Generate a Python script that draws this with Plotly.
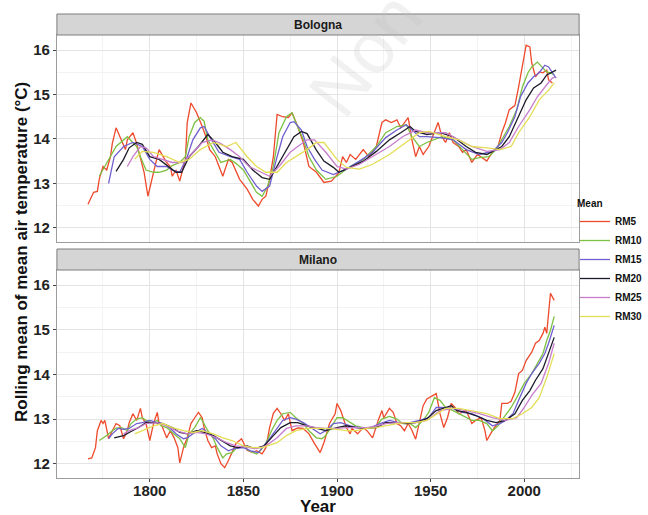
import plotly.graph_objects as go

# ---------------- data: rolling means of mean air temperature (°C) ----------------
series_names = ["RM5", "RM10", "RM15", "RM20", "RM25", "RM30"]
series_colors = ["#ee4a2c", "#7cc142", "#6f5fd0", "#1c1c2a", "#c77ccc", "#e3de55"]

bologna_rm5_years = [1767, 1770, 1772, 1773, 1775, 1777, 1779, 1780, 1782, 1785, 1787, 1788, 1791, 1793, 1795, 1797, 1799, 1801, 1804, 1805, 1807, 1809, 1811, 1812, 1814, 1816, 1819, 1820, 1822, 1825, 1828, 1830, 1832, 1835, 1837, 1839, 1842, 1844, 1848, 1852, 1855, 1858, 1860, 1862, 1864, 1866, 1868, 1871, 1874, 1876, 1879, 1882, 1885, 1889, 1893, 1897, 1901, 1903, 1905, 1907, 1910, 1914, 1917, 1921, 1924, 1926, 1929, 1932, 1934, 1938, 1940, 1942, 1944, 1946, 1949, 1952, 1954, 1956, 1958, 1960, 1962, 1965, 1967, 1969, 1972, 1975, 1978, 1980, 1983, 1986, 1988, 1990, 1992, 1994, 1995, 1997, 1999, 2001, 2003, 2004, 2006, 2008, 2010, 2012, 2013, 2015]
bologna_rm5 = [12.53, 12.8, 12.82, 13.09, 13.38, 13.3, 13.6, 13.9, 14.25, 13.98, 13.76, 13.98, 14.14, 13.9, 13.6, 13.24, 12.71, 13.09, 13.6, 13.76, 13.6, 13.47, 13.38, 13.16, 13.3, 13.05, 13.54, 14.37, 14.81, 14.59, 14.28, 14.05, 13.76, 13.6, 13.38, 13.16, 13.54, 13.47, 13.09, 12.87, 12.64, 12.49, 12.64, 12.71, 13.09, 13.6, 14.55, 14.5, 14.48, 14.59, 14.28, 13.92, 13.38, 13.25, 13.02, 13.05, 13.24, 13.6, 13.47, 13.65, 13.54, 13.76, 13.6, 13.83, 14.37, 14.43, 14.37, 14.43, 14.25, 14.48, 13.98, 13.6, 13.83, 13.65, 13.83, 14.14, 14.37, 14.05, 13.92, 14.14, 13.92, 13.83, 13.7, 13.76, 13.47, 13.65, 13.55, 13.5, 13.7, 13.83, 14.14, 14.37, 14.66, 14.72, 14.75, 15.17, 15.62, 16.11, 16.07, 15.71, 15.4, 15.51, 15.49, 15.55, 15.33, 15.26]

bologna_rm10_years = [1773, 1779, 1782, 1788, 1793, 1795, 1798, 1802, 1805, 1809, 1812, 1816, 1819, 1821, 1824, 1827, 1829, 1831, 1835, 1838, 1843, 1846, 1850, 1853, 1857, 1860, 1863, 1866, 1869, 1873, 1876, 1878, 1882, 1885, 1889, 1894, 1900, 1907, 1914, 1921, 1926, 1932, 1937, 1940, 1944, 1948, 1952, 1956, 1962, 1967, 1972, 1976, 1981, 1985, 1988, 1992, 1996, 1999, 2002, 2004, 2007, 2009, 2012, 2014, 2016]
bologna_rm10 = [13.16, 13.6, 13.83, 14.05, 13.83, 13.6, 13.3, 13.25, 13.25, 13.3, 13.4, 13.47, 13.6, 14.05, 14.37, 14.48, 14.4, 13.98, 13.7, 13.47, 13.54, 13.45, 13.3, 13.09, 12.8, 12.71, 12.94, 13.38, 14.14, 14.5, 14.59, 14.37, 13.98, 13.6, 13.3, 13.09, 13.16, 13.38, 13.54, 13.83, 14.14, 14.28, 14.32, 14.05, 13.83, 13.92, 13.98, 14.05, 13.98, 13.76, 13.54, 13.58, 13.6, 13.76, 13.98, 14.28, 14.66, 15.17, 15.49, 15.62, 15.73, 15.65, 15.51, 15.49, 15.44]

bologna_rm15_years = [1778, 1781, 1786, 1791, 1796, 1800, 1804, 1809, 1812, 1816, 1820, 1823, 1827, 1829, 1833, 1837, 1843, 1848, 1852, 1857, 1860, 1864, 1868, 1871, 1875, 1877, 1881, 1884, 1888, 1892, 1898, 1905, 1912, 1919, 1926, 1932, 1937, 1944, 1948, 1955, 1962, 1969, 1976, 1983, 1988, 1991, 1995, 1998, 2002, 2005, 2008, 2011, 2013, 2015, 2017]
bologna_rm15 = [13.0, 13.6, 13.83, 13.92, 13.83, 13.54, 13.38, 13.38, 13.3, 13.25, 13.6, 13.98, 14.25, 14.28, 13.98, 13.7, 13.6, 13.54, 13.25, 12.94, 12.82, 12.94, 13.6, 14.05, 14.37, 14.39, 14.2, 13.83, 13.54, 13.3, 13.2, 13.32, 13.5, 13.7, 14.03, 14.2, 14.32, 14.05, 14.05, 14.03, 13.98, 13.76, 13.65, 13.72, 13.92, 14.14, 14.5, 14.95, 15.26, 15.4, 15.49, 15.66, 15.62, 15.49, 15.37]

bologna_rm20_years = [1782, 1786, 1789, 1793, 1796, 1800, 1805, 1810, 1814, 1817, 1821, 1826, 1829, 1831, 1835, 1839, 1844, 1850, 1855, 1860, 1864, 1868, 1873, 1877, 1881, 1884, 1889, 1893, 1898, 1901, 1907, 1914, 1921, 1928, 1934, 1939, 1942, 1948, 1955, 1962, 1969, 1974, 1980, 1983, 1988, 1992, 1996, 2001, 2005, 2009, 2012, 2015, 2017]
bologna_rm20 = [13.27, 13.54, 13.8, 13.92, 13.88, 13.6, 13.54, 13.38, 13.25, 13.25, 13.6, 13.83, 13.98, 14.1, 13.92, 13.7, 13.6, 13.54, 13.3, 13.13, 13.09, 13.38, 13.76, 14.05, 14.17, 14.12, 13.75, 13.5, 13.36, 13.25, 13.36, 13.5, 13.72, 13.98, 14.14, 14.28, 14.17, 14.1, 14.14, 14.05, 13.83, 13.7, 13.65, 13.72, 13.83, 14.05, 14.43, 14.88, 15.15, 15.26, 15.44, 15.51, 15.55]

bologna_rm25_years = [1788, 1791, 1795, 1798, 1802, 1807, 1812, 1818, 1823, 1828, 1833, 1837, 1843, 1848, 1853, 1859, 1864, 1869, 1875, 1879, 1884, 1888, 1894, 1900, 1905, 1912, 1919, 1928, 1935, 1942, 1948, 1958, 1965, 1972, 1980, 1987, 1992, 1997, 2003, 2007, 2012, 2015, 2017]
bologna_rm25 = [13.38, 13.6, 13.83, 13.8, 13.6, 13.54, 13.47, 13.47, 13.7, 13.92, 13.98, 13.92, 13.76, 13.6, 13.38, 13.25, 13.16, 13.38, 13.7, 13.83, 13.98, 13.98, 13.7, 13.38, 13.32, 13.43, 13.6, 13.83, 14.05, 14.2, 14.14, 14.14, 13.98, 13.83, 13.72, 13.76, 13.92, 14.28, 14.66, 14.95, 15.22, 15.37, 15.4]

bologna_rm30_years = [1792, 1796, 1802, 1809, 1816, 1821, 1827, 1834, 1841, 1846, 1852, 1857, 1862, 1868, 1873, 1878, 1884, 1889, 1893, 1900, 1905, 1912, 1919, 1928, 1937, 1944, 1949, 1958, 1965, 1972, 1980, 1987, 1993, 1997, 2003, 2008, 2013, 2016]
bologna_rm30 = [13.55, 13.72, 13.7, 13.6, 13.47, 13.54, 13.76, 13.92, 13.83, 13.92, 13.6, 13.38, 13.25, 13.25, 13.47, 13.6, 13.76, 13.92, 13.92, 13.54, 13.36, 13.32, 13.43, 13.65, 13.92, 14.14, 14.17, 14.05, 13.98, 13.83, 13.8, 13.76, 13.83, 14.14, 14.5, 14.88, 15.1, 15.26]

milano_rm5_years = [1767, 1769, 1771, 1772, 1774, 1775, 1776, 1778, 1780, 1782, 1784, 1786, 1788, 1789, 1791, 1793, 1795, 1796, 1798, 1800, 1802, 1804, 1805, 1806, 1809, 1811, 1813, 1815, 1816, 1818, 1820, 1822, 1824, 1826, 1828, 1829, 1831, 1833, 1835, 1836, 1838, 1840, 1842, 1844, 1846, 1849, 1852, 1855, 1857, 1860, 1862, 1864, 1866, 1868, 1870, 1872, 1874, 1876, 1879, 1882, 1885, 1888, 1891, 1893, 1896, 1899, 1900, 1902, 1905, 1907, 1908, 1911, 1914, 1916, 1919, 1922, 1924, 1925, 1928, 1930, 1932, 1934, 1936, 1938, 1940, 1942, 1944, 1946, 1948, 1951, 1953, 1955, 1957, 1959, 1961, 1963, 1965, 1969, 1972, 1974, 1977, 1979, 1980, 1982, 1984, 1987, 1988, 1991, 1993, 1995, 1996, 1997, 1999, 2001, 2004, 2006, 2008, 2010, 2011, 2012, 2014, 2016]
milano_rm5 = [12.11, 12.13, 12.36, 12.74, 12.97, 12.9, 12.97, 12.56, 12.74, 12.9, 12.85, 12.56, 12.74, 12.92, 13.12, 12.97, 13.24, 13.03, 12.9, 12.52, 12.9, 13.15, 12.9, 12.9, 12.58, 12.74, 12.58, 12.36, 12.02, 12.36, 12.58, 12.9, 13.03, 13.15, 13.03, 12.81, 12.52, 12.36, 12.4, 12.22, 12.0, 11.91, 12.07, 12.25, 12.45, 12.56, 12.3, 12.25, 12.29, 12.22, 12.36, 12.81, 13.13, 13.24, 13.12, 12.97, 13.12, 12.74, 12.8, 12.79, 12.67, 12.45, 12.25, 12.47, 12.9, 13.12, 13.35, 13.19, 12.81, 12.67, 12.79, 12.67, 12.81, 12.74, 12.58, 12.97, 13.19, 13.03, 13.24, 13.15, 12.9, 12.85, 12.74, 12.9, 12.75, 12.55, 12.9, 13.3, 13.45, 13.53, 13.57, 13.12, 12.81, 13.03, 13.35, 13.26, 13.12, 13.19, 12.9, 12.97, 13.03, 12.74, 12.52, 12.67, 12.81, 12.97, 13.35, 13.35, 13.4, 13.6, 13.8, 14.02, 14.09, 14.31, 14.5, 14.7, 14.76, 14.92, 15.06, 14.92, 15.82, 15.66]

milano_rm10_years = [1773, 1777, 1780, 1782, 1785, 1788, 1790, 1793, 1796, 1798, 1801, 1804, 1806, 1809, 1812, 1814, 1816, 1819, 1821, 1824, 1827, 1828, 1831, 1834, 1836, 1839, 1841, 1844, 1846, 1850, 1853, 1857, 1859, 1862, 1865, 1868, 1871, 1875, 1878, 1882, 1885, 1889, 1892, 1894, 1898, 1900, 1903, 1907, 1910, 1914, 1917, 1921, 1924, 1928, 1932, 1935, 1939, 1942, 1946, 1949, 1952, 1955, 1958, 1962, 1965, 1969, 1972, 1976, 1980, 1983, 1986, 1989, 1993, 1996, 2000, 2004, 2007, 2010, 2012, 2014, 2016]
milano_rm10 = [12.52, 12.63, 12.74, 12.8, 12.81, 12.74, 12.9, 13.0, 13.03, 12.97, 12.92, 12.97, 12.85, 12.81, 12.7, 12.63, 12.56, 12.36, 12.67, 12.81, 13.03, 12.97, 12.74, 12.56, 12.36, 12.13, 12.22, 12.25, 12.34, 12.4, 12.29, 12.22, 12.29, 12.45, 12.74, 12.97, 13.12, 13.15, 13.03, 12.9, 12.74, 12.58, 12.56, 12.63, 12.9, 13.03, 13.03, 12.92, 12.85, 12.81, 12.79, 12.85, 13.0, 13.06, 13.0, 12.9, 12.9, 12.81, 12.97, 13.15, 13.48, 13.42, 13.26, 13.19, 13.12, 13.03, 12.97, 12.97, 12.9, 12.74, 12.85, 13.03, 13.26, 13.48, 13.8, 14.02, 14.25, 14.47, 14.76, 14.99, 15.3]

milano_rm15_years = [1778, 1780, 1783, 1786, 1789, 1793, 1796, 1800, 1804, 1807, 1811, 1814, 1818, 1820, 1824, 1828, 1831, 1835, 1838, 1842, 1845, 1850, 1854, 1858, 1860, 1864, 1868, 1871, 1875, 1878, 1882, 1886, 1891, 1894, 1898, 1902, 1907, 1912, 1917, 1923, 1928, 1933, 1939, 1944, 1949, 1953, 1956, 1962, 1967, 1972, 1978, 1983, 1987, 1990, 1994, 1997, 2001, 2004, 2008, 2011, 2013, 2016]
milano_rm15 = [12.56, 12.67, 12.79, 12.77, 12.79, 12.9, 12.92, 12.97, 12.92, 12.9, 12.79, 12.67, 12.56, 12.58, 12.7, 12.79, 12.7, 12.56, 12.4, 12.29, 12.34, 12.36, 12.29, 12.25, 12.36, 12.56, 12.79, 12.97, 13.03, 13.0, 12.92, 12.81, 12.67, 12.74, 12.9, 12.92, 12.85, 12.81, 12.79, 12.9, 12.97, 12.92, 12.92, 12.97, 13.03, 13.26, 13.26, 13.24, 13.15, 13.12, 13.01, 12.85, 12.9, 12.97, 13.12, 13.42, 13.8, 14.02, 14.25, 14.47, 14.7, 15.1]

milano_rm20_years = [1781, 1786, 1789, 1794, 1798, 1803, 1807, 1812, 1816, 1820, 1825, 1829, 1834, 1838, 1843, 1847, 1852, 1856, 1861, 1866, 1870, 1875, 1879, 1884, 1889, 1894, 1900, 1905, 1910, 1916, 1921, 1926, 1932, 1937, 1942, 1948, 1953, 1958, 1961, 1964, 1969, 1974, 1980, 1985, 1990, 1995, 1999, 2003, 2006, 2010, 2013, 2016]
milano_rm20 = [12.58, 12.63, 12.7, 12.81, 12.92, 12.92, 12.9, 12.81, 12.7, 12.67, 12.74, 12.7, 12.63, 12.52, 12.4, 12.36, 12.4, 12.34, 12.4, 12.63, 12.81, 12.92, 12.92, 12.85, 12.79, 12.74, 12.81, 12.85, 12.81, 12.79, 12.81, 12.92, 12.92, 12.9, 12.92, 13.01, 13.19, 13.26, 13.3, 13.19, 13.15, 13.08, 12.97, 12.92, 12.97, 13.12, 13.42, 13.64, 13.87, 14.13, 14.47, 14.83]

milano_rm25_years = [1786, 1789, 1794, 1798, 1804, 1809, 1814, 1820, 1825, 1830, 1836, 1841, 1846, 1852, 1857, 1862, 1868, 1873, 1878, 1884, 1889, 1894, 1900, 1905, 1910, 1916, 1921, 1926, 1932, 1937, 1942, 1948, 1955, 1962, 1969, 1976, 1983, 1990, 1996, 2000, 2004, 2009, 2013, 2016]
milano_rm25 = [12.67, 12.74, 12.81, 12.9, 12.92, 12.85, 12.74, 12.67, 12.7, 12.67, 12.58, 12.47, 12.4, 12.36, 12.34, 12.4, 12.58, 12.79, 12.85, 12.85, 12.81, 12.79, 12.79, 12.81, 12.81, 12.81, 12.85, 12.9, 12.92, 12.92, 12.92, 12.97, 13.19, 13.24, 13.19, 13.12, 13.03, 12.97, 13.03, 13.26, 13.53, 13.8, 14.25, 14.7]

milano_rm30_years = [1792, 1796, 1802, 1807, 1812, 1818, 1823, 1828, 1834, 1839, 1844, 1850, 1855, 1860, 1868, 1873, 1878, 1884, 1889, 1894, 1900, 1905, 1910, 1916, 1921, 1926, 1932, 1937, 1942, 1948, 1958, 1965, 1972, 1980, 1987, 1994, 1999, 2004, 2008, 2012, 2016]
milano_rm30 = [12.67, 12.74, 12.85, 12.9, 12.81, 12.74, 12.7, 12.74, 12.67, 12.58, 12.52, 12.4, 12.36, 12.36, 12.47, 12.63, 12.74, 12.79, 12.79, 12.79, 12.77, 12.74, 12.74, 12.79, 12.81, 12.85, 12.9, 12.92, 12.92, 12.97, 13.24, 13.24, 13.19, 13.12, 13.01, 13.01, 13.12, 13.26, 13.48, 13.93, 14.47]

stations = ["Bologna", "Milano"]
station_series = {
    "Bologna": [
        (bologna_rm5_years, bologna_rm5), (bologna_rm10_years, bologna_rm10),
        (bologna_rm15_years, bologna_rm15), (bologna_rm20_years, bologna_rm20),
        (bologna_rm25_years, bologna_rm25), (bologna_rm30_years, bologna_rm30),
    ],
    "Milano": [
        (milano_rm5_years, milano_rm5), (milano_rm10_years, milano_rm10),
        (milano_rm15_years, milano_rm15), (milano_rm20_years, milano_rm20),
        (milano_rm25_years, milano_rm25), (milano_rm30_years, milano_rm30),
    ],
}

x_ticks = [1800, 1850, 1900, 1950, 2000]
y_ticks = [12, 13, 14, 15, 16]

# ---------------- layout geometry ----------------
W, H = 648, 515
FONT = "Liberation Sans, Arial, sans-serif"
px_x = lambda p: p / W
px_y = lambda p: 1 - p / H

panel_x = [px_x(57), px_x(580)]
panels = {  # (strip top, panel top, panel bottom) in pixels
    "Bologna": (14, 35, 242),
    "Milano": (249, 270, 478),
}
axis_ids = {"Bologna": ("x2", "y2"), "Milano": ("x", "y")}

fig = go.Figure()

for station in stations:
    xa, ya = axis_ids[station]
    for i, (yrs, vals) in enumerate(station_series[station]):
        fig.add_trace(go.Scatter(
            x=yrs, y=vals, mode="lines",
            name=series_names[i], legendgroup=series_names[i],
            showlegend=(station == "Bologna"),
            line=dict(color=series_colors[i], width=1.3),
            xaxis=xa, yaxis=ya,
        ))

x_common = dict(
    range=[1750.4, 2029.3], tickvals=x_ticks, showgrid=True,
    gridcolor="#e4e4e4", gridwidth=0.8, zeroline=False,
    showline=True, mirror=True, linecolor="#9c9c9c", linewidth=1,
    minor=dict(dtick=25, tick0=1775, showgrid=True, gridcolor="#f3f3f3", gridwidth=0.6),
    automargin=False,
)
y_common = dict(
    range=[11.68, 16.34], tickvals=y_ticks, showgrid=True,
    gridcolor="#e4e4e4", gridwidth=0.8, zeroline=False,
    showline=True, mirror=True, linecolor="#9c9c9c", linewidth=1,
    minor=dict(dtick=0.5, tick0=11.5, showgrid=True, gridcolor="#f3f3f3", gridwidth=0.6),
    ticks="outside", ticklen=3, tickcolor="#444", tickwidth=1,
    tickfont=dict(family=FONT, size=15, color="#222", weight="bold"),
    automargin=False,
)

_, mt, mb = panels["Milano"]
_, bt, bb = panels["Bologna"]
fig.update_layout(
    xaxis=dict(**x_common, domain=panel_x, anchor="y", ticks="outside", ticklen=3,
               tickcolor="#444", tickwidth=1, ticklabelstandoff=-4,
               tickfont=dict(family=FONT, size=15, color="#222", weight="bold")),
    yaxis=dict(**y_common, domain=[px_y(mb), px_y(mt)], anchor="x"),
    xaxis2=dict(**x_common, domain=panel_x, anchor="y2", matches="x",
                showticklabels=False, ticks=""),
    yaxis2=dict(**y_common, domain=[px_y(bb), px_y(bt)], anchor="x2"),
)

shapes = []
annotations = []
for station in stations:
    st, pt, pb = panels[station]
    shapes.append(dict(type="rect", xref="paper", yref="paper",
                       x0=panel_x[0], x1=panel_x[1], y0=px_y(pt), y1=px_y(st),
                       fillcolor="#d5d5d5", line=dict(color="#7d7d7d", width=1)))
    annotations.append(dict(text=station, xref="paper", yref="paper",
                            x=(panel_x[0] + panel_x[1]) / 2, y=px_y((st + pt) / 2),
                            showarrow=False, xanchor="center", yanchor="middle",
                            font=dict(family=FONT, size=12, color="#1a1a1a", weight="bold")))

annotations.append(dict(text="Year", xref="paper", yref="paper",
                        x=(panel_x[0] + panel_x[1]) / 2, y=0, yshift=-3,
                        showarrow=False, xanchor="center", yanchor="bottom",
                        font=dict(family=FONT, size=17, color="#111", weight="bold")))
annotations.append(dict(text="Rolling mean of mean air temperature (°C)",
                        xref="paper", yref="paper", x=px_x(22), y=px_y(252),
                        textangle=-90, showarrow=False, xanchor="center", yanchor="middle",
                        font=dict(family=FONT, size=17, color="#111", weight="bold")))
# faint diagonal watermark
annotations.append(dict(text="Non", xref="paper", yref="paper",
                        x=px_x(366), y=px_y(54), textangle=-52, showarrow=False,
                        xanchor="center", yanchor="middle",
                        font=dict(family=FONT, size=72, color="rgba(190,190,190,0.22)")))

fig.update_layout(
    width=W, height=H,
    margin=dict(l=0, r=0, t=0, b=0),
    paper_bgcolor="white", plot_bgcolor="white",
    shapes=shapes, annotations=annotations,
    showlegend=True,
    legend=dict(
        x=px_x(576), y=px_y(194), xanchor="left", yanchor="top",
        title=dict(text="Mean", font=dict(family=FONT, size=10, color="#111", weight="bold")),
        font=dict(family=FONT, size=10, color="#111", weight="bold"),
        bgcolor="rgba(0,0,0,0)", tracegroupgap=0, itemwidth=30,
    ),
)

fig.write_html("out.html")
